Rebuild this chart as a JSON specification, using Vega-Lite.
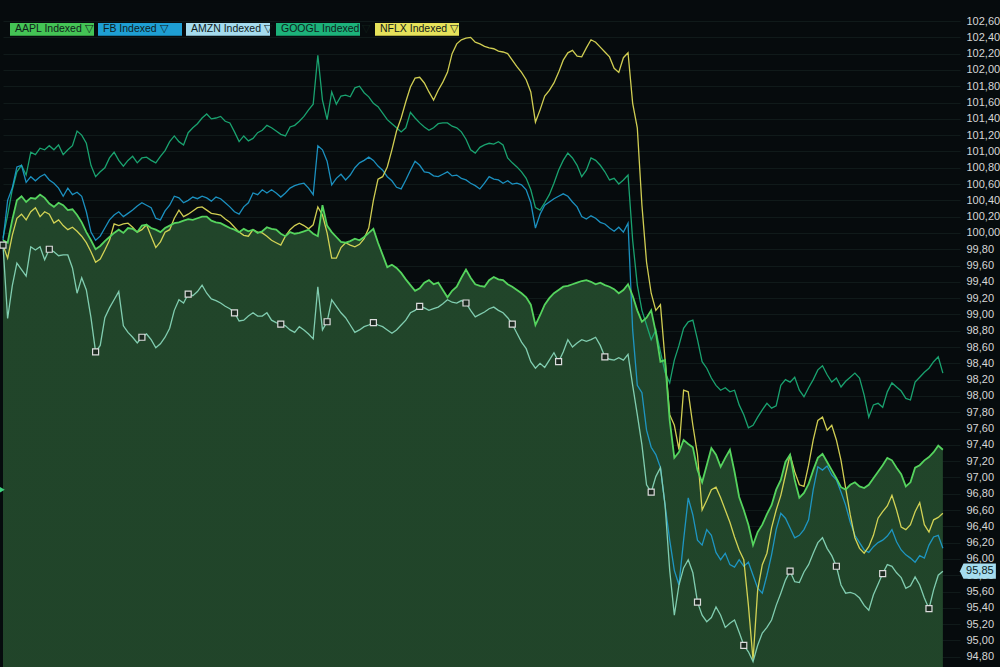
{
"$schema": "https://vega.github.io/schema/vega-lite/v6.json",
"width": 957, "height": 667,
"autosize": {"type": "none"},
"padding": {"left": 3, "top": 0, "right": 40, "bottom": 0},
"background": "#060b0d",
"config": {"view": {"stroke": null}, "font": "Liberation Sans",
  "axisY": {"grid": true, "gridColor": "#101a1a", "gridWidth": 1, "domain": false, "ticks": false, "labelPadding": 6, "labelColor": "#d6d6d6", "labelFontSize": 11, "labelFont": "Liberation Sans", "labelOverlap": false},
  "locale": {"number": {"decimal": ",", "thousands": ".", "grouping": [3], "currency": ["", " €"]}}},
"data": {"values": [
{"t":0,"AAPL":99.91,"FB":99.91,"AMZN":99.85,"GOOGL":99.94,"NFLX":99.85},
{"t":1,"AAPL":99.88,"FB":100.40,"AMZN":98.95,"GOOGL":100.22,"NFLX":99.69},
{"t":2,"AAPL":100.16,"FB":100.55,"AMZN":99.35,"GOOGL":100.53,"NFLX":99.97},
{"t":3,"AAPL":100.40,"FB":100.81,"AMZN":99.63,"GOOGL":100.75,"NFLX":100.18},
{"t":4,"AAPL":100.45,"FB":100.83,"AMZN":99.55,"GOOGL":100.83,"NFLX":100.23},
{"t":5,"AAPL":100.38,"FB":100.62,"AMZN":99.47,"GOOGL":100.71,"NFLX":100.16},
{"t":6,"AAPL":100.43,"FB":100.69,"AMZN":99.83,"GOOGL":100.99,"NFLX":100.26},
{"t":7,"AAPL":100.42,"FB":100.64,"AMZN":99.79,"GOOGL":100.96,"NFLX":100.31},
{"t":8,"AAPL":100.47,"FB":100.69,"AMZN":99.83,"GOOGL":101.04,"NFLX":100.20},
{"t":9,"AAPL":100.43,"FB":100.72,"AMZN":99.67,"GOOGL":101.02,"NFLX":100.26},
{"t":10,"AAPL":100.36,"FB":100.65,"AMZN":99.80,"GOOGL":101.07,"NFLX":100.23},
{"t":11,"AAPL":100.32,"FB":100.61,"AMZN":99.77,"GOOGL":101.02,"NFLX":100.12},
{"t":12,"AAPL":100.37,"FB":100.55,"AMZN":99.72,"GOOGL":101.08,"NFLX":100.16},
{"t":13,"AAPL":100.34,"FB":100.45,"AMZN":99.73,"GOOGL":100.96,"NFLX":100.09},
{"t":14,"AAPL":100.28,"FB":100.55,"AMZN":99.73,"GOOGL":101.02,"NFLX":100.04},
{"t":15,"AAPL":100.29,"FB":100.47,"AMZN":99.57,"GOOGL":101.07,"NFLX":100.07},
{"t":16,"AAPL":100.22,"FB":100.50,"AMZN":99.26,"GOOGL":101.25,"NFLX":100.02},
{"t":17,"AAPL":100.13,"FB":100.45,"AMZN":99.45,"GOOGL":101.20,"NFLX":99.96},
{"t":18,"AAPL":100.01,"FB":100.26,"AMZN":99.30,"GOOGL":101.10,"NFLX":99.88},
{"t":19,"AAPL":99.91,"FB":100.01,"AMZN":98.96,"GOOGL":100.83,"NFLX":99.77},
{"t":20,"AAPL":99.80,"FB":99.91,"AMZN":98.54,"GOOGL":100.69,"NFLX":99.64},
{"t":21,"AAPL":99.84,"FB":99.96,"AMZN":98.62,"GOOGL":100.75,"NFLX":99.68},
{"t":22,"AAPL":99.90,"FB":100.06,"AMZN":98.96,"GOOGL":100.80,"NFLX":99.79},
{"t":23,"AAPL":99.95,"FB":100.16,"AMZN":99.08,"GOOGL":100.92,"NFLX":99.91},
{"t":24,"AAPL":100.00,"FB":100.22,"AMZN":99.18,"GOOGL":100.99,"NFLX":100.11},
{"t":25,"AAPL":100.04,"FB":100.26,"AMZN":99.28,"GOOGL":100.89,"NFLX":100.09},
{"t":26,"AAPL":100.00,"FB":100.20,"AMZN":98.86,"GOOGL":100.82,"NFLX":100.11},
{"t":27,"AAPL":100.06,"FB":100.24,"AMZN":98.78,"GOOGL":100.89,"NFLX":100.12},
{"t":28,"AAPL":100.05,"FB":100.28,"AMZN":98.72,"GOOGL":100.94,"NFLX":100.07},
{"t":29,"AAPL":100.01,"FB":100.33,"AMZN":98.65,"GOOGL":100.86,"NFLX":100.01},
{"t":30,"AAPL":100.09,"FB":100.37,"AMZN":98.72,"GOOGL":100.92,"NFLX":100.04},
{"t":31,"AAPL":100.10,"FB":100.34,"AMZN":98.76,"GOOGL":100.93,"NFLX":100.10},
{"t":32,"AAPL":100.06,"FB":100.31,"AMZN":98.69,"GOOGL":100.89,"NFLX":99.96},
{"t":33,"AAPL":100.04,"FB":100.18,"AMZN":98.59,"GOOGL":100.86,"NFLX":99.82},
{"t":34,"AAPL":100.01,"FB":100.16,"AMZN":98.64,"GOOGL":100.94,"NFLX":99.89},
{"t":35,"AAPL":100.06,"FB":100.27,"AMZN":98.72,"GOOGL":101.01,"NFLX":100.01},
{"t":36,"AAPL":100.09,"FB":100.34,"AMZN":98.83,"GOOGL":101.12,"NFLX":100.04},
{"t":37,"AAPL":100.12,"FB":100.45,"AMZN":99.05,"GOOGL":101.19,"NFLX":100.18},
{"t":38,"AAPL":100.13,"FB":100.43,"AMZN":99.18,"GOOGL":101.12,"NFLX":100.28},
{"t":39,"AAPL":100.15,"FB":100.37,"AMZN":99.14,"GOOGL":101.08,"NFLX":100.20},
{"t":40,"AAPL":100.17,"FB":100.40,"AMZN":99.25,"GOOGL":101.23,"NFLX":100.23},
{"t":41,"AAPL":100.16,"FB":100.44,"AMZN":99.23,"GOOGL":101.29,"NFLX":100.27},
{"t":42,"AAPL":100.18,"FB":100.42,"AMZN":99.28,"GOOGL":101.34,"NFLX":100.31},
{"t":43,"AAPL":100.20,"FB":100.45,"AMZN":99.36,"GOOGL":101.41,"NFLX":100.32},
{"t":44,"AAPL":100.20,"FB":100.43,"AMZN":99.26,"GOOGL":101.46,"NFLX":100.28},
{"t":45,"AAPL":100.15,"FB":100.39,"AMZN":99.19,"GOOGL":101.40,"NFLX":100.24},
{"t":46,"AAPL":100.13,"FB":100.44,"AMZN":99.17,"GOOGL":101.41,"NFLX":100.23},
{"t":47,"AAPL":100.12,"FB":100.42,"AMZN":99.14,"GOOGL":101.43,"NFLX":100.22},
{"t":48,"AAPL":100.09,"FB":100.37,"AMZN":99.10,"GOOGL":101.37,"NFLX":100.17},
{"t":49,"AAPL":100.06,"FB":100.32,"AMZN":99.07,"GOOGL":101.35,"NFLX":100.13},
{"t":50,"AAPL":100.04,"FB":100.26,"AMZN":99.02,"GOOGL":101.24,"NFLX":100.07},
{"t":51,"AAPL":100.01,"FB":100.23,"AMZN":98.92,"GOOGL":101.12,"NFLX":100.01},
{"t":52,"AAPL":100.05,"FB":100.32,"AMZN":98.93,"GOOGL":101.19,"NFLX":99.97},
{"t":53,"AAPL":100.02,"FB":100.37,"AMZN":98.98,"GOOGL":101.13,"NFLX":99.96},
{"t":54,"AAPL":100.04,"FB":100.49,"AMZN":99.02,"GOOGL":101.16,"NFLX":100.04},
{"t":55,"AAPL":100.00,"FB":100.47,"AMZN":98.98,"GOOGL":101.23,"NFLX":100.01},
{"t":56,"AAPL":100.02,"FB":100.53,"AMZN":98.98,"GOOGL":101.26,"NFLX":100.00},
{"t":57,"AAPL":100.07,"FB":100.49,"AMZN":99.02,"GOOGL":101.32,"NFLX":99.96},
{"t":58,"AAPL":100.05,"FB":100.53,"AMZN":98.93,"GOOGL":101.29,"NFLX":99.91},
{"t":59,"AAPL":100.04,"FB":100.49,"AMZN":98.90,"GOOGL":101.25,"NFLX":99.88},
{"t":60,"AAPL":99.99,"FB":100.44,"AMZN":98.88,"GOOGL":101.21,"NFLX":99.85},
{"t":61,"AAPL":99.96,"FB":100.49,"AMZN":98.86,"GOOGL":101.19,"NFLX":99.96},
{"t":62,"AAPL":100.01,"FB":100.55,"AMZN":98.81,"GOOGL":101.30,"NFLX":100.04},
{"t":63,"AAPL":99.99,"FB":100.58,"AMZN":98.78,"GOOGL":101.32,"NFLX":100.09},
{"t":64,"AAPL":100.00,"FB":100.60,"AMZN":98.85,"GOOGL":101.37,"NFLX":100.12},
{"t":65,"AAPL":100.02,"FB":100.61,"AMZN":98.81,"GOOGL":101.43,"NFLX":100.09},
{"t":66,"AAPL":100.04,"FB":100.55,"AMZN":98.76,"GOOGL":101.51,"NFLX":100.05},
{"t":67,"AAPL":99.99,"FB":100.47,"AMZN":98.70,"GOOGL":101.58,"NFLX":100.10},
{"t":68,"AAPL":99.96,"FB":101.07,"AMZN":99.34,"GOOGL":102.18,"NFLX":100.32},
{"t":69,"AAPL":100.34,"FB":101.02,"AMZN":98.81,"GOOGL":101.63,"NFLX":100.22},
{"t":70,"AAPL":100.09,"FB":100.88,"AMZN":98.91,"GOOGL":101.39,"NFLX":100.00},
{"t":71,"AAPL":100.01,"FB":100.59,"AMZN":99.18,"GOOGL":101.73,"NFLX":99.69},
{"t":72,"AAPL":99.95,"FB":100.67,"AMZN":99.10,"GOOGL":101.58,"NFLX":99.69},
{"t":73,"AAPL":99.89,"FB":100.72,"AMZN":99.02,"GOOGL":101.68,"NFLX":99.82},
{"t":74,"AAPL":99.88,"FB":100.65,"AMZN":98.96,"GOOGL":101.69,"NFLX":99.88},
{"t":75,"AAPL":99.90,"FB":100.71,"AMZN":98.87,"GOOGL":101.67,"NFLX":99.85},
{"t":76,"AAPL":99.93,"FB":100.80,"AMZN":98.78,"GOOGL":101.78,"NFLX":99.83},
{"t":77,"AAPL":99.91,"FB":100.86,"AMZN":98.81,"GOOGL":101.80,"NFLX":99.86},
{"t":78,"AAPL":99.95,"FB":100.89,"AMZN":98.85,"GOOGL":101.72,"NFLX":99.93},
{"t":79,"AAPL":100.00,"FB":100.93,"AMZN":98.87,"GOOGL":101.67,"NFLX":100.06},
{"t":80,"AAPL":100.05,"FB":100.89,"AMZN":98.90,"GOOGL":101.59,"NFLX":100.40},
{"t":81,"AAPL":99.88,"FB":100.82,"AMZN":98.87,"GOOGL":101.55,"NFLX":100.66},
{"t":82,"AAPL":99.73,"FB":100.77,"AMZN":98.85,"GOOGL":101.47,"NFLX":100.69},
{"t":83,"AAPL":99.58,"FB":100.69,"AMZN":98.81,"GOOGL":101.39,"NFLX":100.81},
{"t":84,"AAPL":99.61,"FB":100.64,"AMZN":98.77,"GOOGL":101.34,"NFLX":101.02},
{"t":85,"AAPL":99.57,"FB":100.56,"AMZN":98.81,"GOOGL":101.29,"NFLX":101.25},
{"t":86,"AAPL":99.51,"FB":100.54,"AMZN":98.87,"GOOGL":101.24,"NFLX":101.41},
{"t":87,"AAPL":99.43,"FB":100.65,"AMZN":98.93,"GOOGL":101.29,"NFLX":101.61},
{"t":88,"AAPL":99.36,"FB":100.77,"AMZN":99.02,"GOOGL":101.48,"NFLX":101.79},
{"t":89,"AAPL":99.29,"FB":100.88,"AMZN":99.05,"GOOGL":101.41,"NFLX":101.90},
{"t":90,"AAPL":99.32,"FB":100.83,"AMZN":99.10,"GOOGL":101.35,"NFLX":101.91},
{"t":91,"AAPL":99.39,"FB":100.75,"AMZN":99.08,"GOOGL":101.30,"NFLX":101.84},
{"t":92,"AAPL":99.42,"FB":100.74,"AMZN":99.05,"GOOGL":101.26,"NFLX":101.73},
{"t":93,"AAPL":99.37,"FB":100.70,"AMZN":99.07,"GOOGL":101.29,"NFLX":101.63},
{"t":94,"AAPL":99.39,"FB":100.69,"AMZN":99.09,"GOOGL":101.34,"NFLX":101.75},
{"t":95,"AAPL":99.30,"FB":100.72,"AMZN":99.13,"GOOGL":101.35,"NFLX":101.85},
{"t":96,"AAPL":99.21,"FB":100.75,"AMZN":99.18,"GOOGL":101.35,"NFLX":101.97},
{"t":97,"AAPL":99.29,"FB":100.70,"AMZN":99.15,"GOOGL":101.31,"NFLX":102.20},
{"t":98,"AAPL":99.34,"FB":100.71,"AMZN":99.14,"GOOGL":101.29,"NFLX":102.32},
{"t":99,"AAPL":99.45,"FB":100.67,"AMZN":99.17,"GOOGL":101.24,"NFLX":102.37},
{"t":100,"AAPL":99.55,"FB":100.65,"AMZN":99.14,"GOOGL":101.15,"NFLX":102.39},
{"t":101,"AAPL":99.45,"FB":100.61,"AMZN":99.05,"GOOGL":101.02,"NFLX":102.40},
{"t":102,"AAPL":99.37,"FB":100.58,"AMZN":98.97,"GOOGL":100.98,"NFLX":102.34},
{"t":103,"AAPL":99.35,"FB":100.54,"AMZN":99.00,"GOOGL":101.05,"NFLX":102.32},
{"t":104,"AAPL":99.34,"FB":100.61,"AMZN":99.03,"GOOGL":101.08,"NFLX":102.29},
{"t":105,"AAPL":99.42,"FB":100.69,"AMZN":99.07,"GOOGL":101.10,"NFLX":102.27},
{"t":106,"AAPL":99.46,"FB":100.66,"AMZN":99.09,"GOOGL":101.09,"NFLX":102.26},
{"t":107,"AAPL":99.43,"FB":100.65,"AMZN":99.05,"GOOGL":101.12,"NFLX":102.23},
{"t":108,"AAPL":99.42,"FB":100.61,"AMZN":99.02,"GOOGL":101.08,"NFLX":102.22},
{"t":109,"AAPL":99.37,"FB":100.64,"AMZN":98.96,"GOOGL":100.92,"NFLX":102.20},
{"t":110,"AAPL":99.34,"FB":100.60,"AMZN":98.88,"GOOGL":100.86,"NFLX":102.12},
{"t":111,"AAPL":99.30,"FB":100.61,"AMZN":98.77,"GOOGL":100.81,"NFLX":102.04},
{"t":112,"AAPL":99.26,"FB":100.59,"AMZN":98.66,"GOOGL":100.75,"NFLX":101.97},
{"t":113,"AAPL":99.21,"FB":100.53,"AMZN":98.58,"GOOGL":100.67,"NFLX":101.88},
{"t":114,"AAPL":99.12,"FB":100.37,"AMZN":98.42,"GOOGL":100.53,"NFLX":101.73},
{"t":115,"AAPL":98.87,"FB":100.06,"AMZN":98.34,"GOOGL":100.31,"NFLX":101.36},
{"t":116,"AAPL":98.99,"FB":100.23,"AMZN":98.40,"GOOGL":100.28,"NFLX":101.51},
{"t":117,"AAPL":99.12,"FB":100.34,"AMZN":98.35,"GOOGL":100.37,"NFLX":101.68},
{"t":118,"AAPL":99.20,"FB":100.38,"AMZN":98.44,"GOOGL":100.47,"NFLX":101.75},
{"t":119,"AAPL":99.26,"FB":100.42,"AMZN":98.53,"GOOGL":100.61,"NFLX":101.84},
{"t":120,"AAPL":99.30,"FB":100.45,"AMZN":98.42,"GOOGL":100.77,"NFLX":101.97},
{"t":121,"AAPL":99.34,"FB":100.48,"AMZN":98.54,"GOOGL":100.89,"NFLX":102.12},
{"t":122,"AAPL":99.35,"FB":100.45,"AMZN":98.69,"GOOGL":100.98,"NFLX":102.21},
{"t":123,"AAPL":99.37,"FB":100.38,"AMZN":98.60,"GOOGL":100.92,"NFLX":102.24},
{"t":124,"AAPL":99.39,"FB":100.32,"AMZN":98.65,"GOOGL":100.83,"NFLX":102.17},
{"t":125,"AAPL":99.41,"FB":100.20,"AMZN":98.69,"GOOGL":100.69,"NFLX":102.16},
{"t":126,"AAPL":99.42,"FB":100.17,"AMZN":98.67,"GOOGL":100.77,"NFLX":102.27},
{"t":127,"AAPL":99.40,"FB":100.21,"AMZN":98.69,"GOOGL":100.92,"NFLX":102.37},
{"t":128,"AAPL":99.37,"FB":100.18,"AMZN":98.72,"GOOGL":100.89,"NFLX":102.34},
{"t":129,"AAPL":99.39,"FB":100.13,"AMZN":98.62,"GOOGL":100.83,"NFLX":102.28},
{"t":130,"AAPL":99.36,"FB":100.11,"AMZN":98.48,"GOOGL":100.75,"NFLX":102.22},
{"t":131,"AAPL":99.34,"FB":100.06,"AMZN":98.45,"GOOGL":100.65,"NFLX":102.16},
{"t":132,"AAPL":99.31,"FB":100.02,"AMZN":98.44,"GOOGL":100.67,"NFLX":102.02},
{"t":133,"AAPL":99.26,"FB":100.07,"AMZN":98.47,"GOOGL":100.60,"NFLX":101.97},
{"t":134,"AAPL":99.30,"FB":100.01,"AMZN":98.44,"GOOGL":100.65,"NFLX":102.15},
{"t":135,"AAPL":99.37,"FB":100.12,"AMZN":98.51,"GOOGL":100.71,"NFLX":102.21},
{"t":136,"AAPL":99.23,"FB":98.81,"AMZN":98.13,"GOOGL":99.91,"NFLX":101.59},
{"t":137,"AAPL":99.05,"FB":98.13,"AMZN":97.77,"GOOGL":99.36,"NFLX":101.29},
{"t":138,"AAPL":98.91,"FB":98.04,"AMZN":97.40,"GOOGL":99.05,"NFLX":100.34},
{"t":139,"AAPL":98.96,"FB":97.58,"AMZN":96.91,"GOOGL":98.87,"NFLX":99.64},
{"t":140,"AAPL":99.05,"FB":97.37,"AMZN":96.82,"GOOGL":98.69,"NFLX":99.26},
{"t":141,"AAPL":98.78,"FB":97.28,"AMZN":97.01,"GOOGL":98.81,"NFLX":99.05},
{"t":142,"AAPL":98.42,"FB":97.12,"AMZN":97.12,"GOOGL":98.54,"NFLX":99.12},
{"t":143,"AAPL":98.44,"FB":96.66,"AMZN":96.66,"GOOGL":98.29,"NFLX":98.44},
{"t":144,"AAPL":97.70,"FB":96.23,"AMZN":95.86,"GOOGL":98.16,"NFLX":97.77},
{"t":145,"AAPL":97.24,"FB":95.86,"AMZN":95.31,"GOOGL":98.44,"NFLX":97.64},
{"t":146,"AAPL":97.31,"FB":95.68,"AMZN":95.68,"GOOGL":98.62,"NFLX":97.34},
{"t":147,"AAPL":97.46,"FB":96.23,"AMZN":95.89,"GOOGL":98.83,"NFLX":98.07},
{"t":148,"AAPL":97.41,"FB":96.75,"AMZN":95.99,"GOOGL":98.91,"NFLX":98.05},
{"t":149,"AAPL":97.37,"FB":96.54,"AMZN":95.83,"GOOGL":98.93,"NFLX":97.64},
{"t":150,"AAPL":97.09,"FB":96.23,"AMZN":95.47,"GOOGL":98.69,"NFLX":97.28},
{"t":151,"AAPL":96.94,"FB":96.17,"AMZN":95.31,"GOOGL":98.42,"NFLX":96.60},
{"t":152,"AAPL":97.15,"FB":96.36,"AMZN":95.23,"GOOGL":98.34,"NFLX":96.72},
{"t":153,"AAPL":97.36,"FB":96.29,"AMZN":95.28,"GOOGL":98.22,"NFLX":96.85},
{"t":154,"AAPL":97.28,"FB":96.08,"AMZN":95.41,"GOOGL":98.13,"NFLX":96.88},
{"t":155,"AAPL":97.13,"FB":95.99,"AMZN":95.31,"GOOGL":98.07,"NFLX":96.75},
{"t":156,"AAPL":97.24,"FB":96.07,"AMZN":95.16,"GOOGL":98.10,"NFLX":96.60},
{"t":157,"AAPL":97.34,"FB":95.93,"AMZN":95.21,"GOOGL":98.05,"NFLX":96.45},
{"t":158,"AAPL":97.07,"FB":95.90,"AMZN":95.25,"GOOGL":98.07,"NFLX":96.27},
{"t":159,"AAPL":96.76,"FB":95.99,"AMZN":95.10,"GOOGL":97.89,"NFLX":96.11},
{"t":160,"AAPL":96.60,"FB":95.91,"AMZN":94.94,"GOOGL":97.77,"NFLX":95.99},
{"t":161,"AAPL":96.42,"FB":95.96,"AMZN":94.86,"GOOGL":97.61,"NFLX":95.43},
{"t":162,"AAPL":96.17,"FB":95.80,"AMZN":94.74,"GOOGL":97.64,"NFLX":94.76},
{"t":163,"AAPL":96.33,"FB":95.64,"AMZN":94.94,"GOOGL":97.74,"NFLX":95.62},
{"t":164,"AAPL":96.42,"FB":95.58,"AMZN":95.09,"GOOGL":97.83,"NFLX":95.93},
{"t":165,"AAPL":96.55,"FB":95.80,"AMZN":95.16,"GOOGL":97.91,"NFLX":96.07},
{"t":166,"AAPL":96.66,"FB":96.05,"AMZN":95.25,"GOOGL":97.85,"NFLX":96.38},
{"t":167,"AAPL":96.85,"FB":96.36,"AMZN":95.43,"GOOGL":97.88,"NFLX":96.60},
{"t":168,"AAPL":96.97,"FB":96.56,"AMZN":95.58,"GOOGL":98.13,"NFLX":96.78},
{"t":169,"AAPL":97.19,"FB":96.50,"AMZN":95.74,"GOOGL":98.20,"NFLX":97.03},
{"t":170,"AAPL":97.28,"FB":96.38,"AMZN":95.85,"GOOGL":98.17,"NFLX":97.28},
{"t":171,"AAPL":96.97,"FB":96.26,"AMZN":95.72,"GOOGL":98.23,"NFLX":97.07},
{"t":172,"AAPL":96.75,"FB":96.29,"AMZN":95.71,"GOOGL":98.07,"NFLX":96.91},
{"t":173,"AAPL":96.81,"FB":96.36,"AMZN":95.84,"GOOGL":97.99,"NFLX":96.89},
{"t":174,"AAPL":96.92,"FB":96.48,"AMZN":95.93,"GOOGL":98.10,"NFLX":97.15},
{"t":175,"AAPL":97.09,"FB":96.85,"AMZN":96.07,"GOOGL":98.20,"NFLX":97.46},
{"t":176,"AAPL":97.24,"FB":97.13,"AMZN":96.20,"GOOGL":98.32,"NFLX":97.70},
{"t":177,"AAPL":97.29,"FB":97.09,"AMZN":96.26,"GOOGL":98.37,"NFLX":97.74},
{"t":178,"AAPL":97.19,"FB":97.14,"AMZN":96.13,"GOOGL":98.26,"NFLX":97.58},
{"t":179,"AAPL":97.09,"FB":97.03,"AMZN":96.04,"GOOGL":98.17,"NFLX":97.64},
{"t":180,"AAPL":96.99,"FB":96.97,"AMZN":95.91,"GOOGL":98.22,"NFLX":97.46},
{"t":181,"AAPL":96.88,"FB":96.82,"AMZN":95.68,"GOOGL":98.11,"NFLX":97.21},
{"t":182,"AAPL":96.85,"FB":96.66,"AMZN":95.58,"GOOGL":98.18,"NFLX":96.87},
{"t":183,"AAPL":96.91,"FB":96.45,"AMZN":95.59,"GOOGL":98.23,"NFLX":96.54},
{"t":184,"AAPL":96.94,"FB":96.29,"AMZN":95.57,"GOOGL":98.28,"NFLX":96.26},
{"t":185,"AAPL":96.89,"FB":96.20,"AMZN":95.52,"GOOGL":98.22,"NFLX":96.13},
{"t":186,"AAPL":96.87,"FB":96.11,"AMZN":95.43,"GOOGL":98.01,"NFLX":96.07},
{"t":187,"AAPL":96.91,"FB":96.08,"AMZN":95.37,"GOOGL":97.74,"NFLX":96.15},
{"t":188,"AAPL":96.99,"FB":96.15,"AMZN":95.56,"GOOGL":97.89,"NFLX":96.29},
{"t":189,"AAPL":97.07,"FB":96.20,"AMZN":95.69,"GOOGL":97.91,"NFLX":96.50},
{"t":190,"AAPL":97.15,"FB":96.23,"AMZN":95.82,"GOOGL":97.86,"NFLX":96.58},
{"t":191,"AAPL":97.24,"FB":96.28,"AMZN":95.93,"GOOGL":98.05,"NFLX":96.65},
{"t":192,"AAPL":97.21,"FB":96.36,"AMZN":95.91,"GOOGL":98.16,"NFLX":96.78},
{"t":193,"AAPL":97.12,"FB":96.21,"AMZN":95.83,"GOOGL":98.11,"NFLX":96.60},
{"t":194,"AAPL":97.04,"FB":96.11,"AMZN":95.77,"GOOGL":98.06,"NFLX":96.39},
{"t":195,"AAPL":96.89,"FB":96.05,"AMZN":95.64,"GOOGL":97.97,"NFLX":96.36},
{"t":196,"AAPL":96.94,"FB":96.01,"AMZN":95.67,"GOOGL":97.95,"NFLX":96.42},
{"t":197,"AAPL":97.12,"FB":95.96,"AMZN":95.78,"GOOGL":98.17,"NFLX":96.58},
{"t":198,"AAPL":97.15,"FB":96.04,"AMZN":95.68,"GOOGL":98.23,"NFLX":96.69},
{"t":199,"AAPL":97.21,"FB":96.01,"AMZN":95.52,"GOOGL":98.29,"NFLX":96.42},
{"t":200,"AAPL":97.25,"FB":96.17,"AMZN":95.39,"GOOGL":98.34,"NFLX":96.33},
{"t":201,"AAPL":97.31,"FB":96.27,"AMZN":95.62,"GOOGL":98.42,"NFLX":96.48},
{"t":202,"AAPL":97.39,"FB":96.29,"AMZN":95.80,"GOOGL":98.48,"NFLX":96.51},
{"t":203,"AAPL":97.34,"FB":96.13,"AMZN":95.85,"GOOGL":98.28,"NFLX":96.56}
]},
"encoding": {
  "x": {"field": "t", "type": "quantitative", "scale": {"domain": [0, 206.7], "nice": false, "zero": false}, "axis": null}
},
"layer": [
  {
    "mark": {"type": "area", "color": {"gradient": "linear", "x1": 0, "y1": 0, "x2": 0, "y2": 1, "stops": [{"offset": 0, "color": "#21452a"}, {"offset": 1, "color": "#1b3a20"}]}},
    "encoding": {
      "y": {"field": "AAPL", "type": "quantitative",
        "scale": {"domain": [94.674, 102.858], "nice": false, "zero": false},
        "axis": {"orient": "right", "title": null, "format": ".2f", "values": [94.8,95,95.2,95.4,95.6,95.8,96,96.2,96.4,96.6,96.8,97,97.2,97.4,97.6,97.8,98,98.2,98.4,98.6,98.8,99,99.2,99.4,99.6,99.8,100,100.2,100.4,100.6,100.8,101,101.2,101.4,101.6,101.8,102,102.2,102.4,102.6]}}
    }
  },
  {
    "transform": [{"fold": ["GOOGL", "FB", "NFLX"], "as": ["s", "v"]}],
    "mark": {"type": "line", "strokeWidth": 1.3, "strokeOpacity": 0.9},
    "encoding": {
      "y": {"field": "v", "type": "quantitative",
        "axis": {"orient": "right", "title": null, "format": ".2f", "values": [94.8,95,95.2,95.4,95.6,95.8,96,96.2,96.4,96.6,96.8,97,97.2,97.4,97.6,97.8,98,98.2,98.4,98.6,98.8,99,99.2,99.4,99.6,99.8,100,100.2,100.4,100.6,100.8,101,101.2,101.4,101.6,101.8,102,102.2,102.4,102.6]}},
      "color": {"field": "s", "type": "nominal",
        "scale": {"domain": ["AAPL", "FB", "AMZN", "GOOGL", "NFLX"], "range": ["#44c455", "#1e9fd3", "#a5dcee", "#1cb27a", "#e6e25a"]},
        "legend": {"title": null, "orient": "none", "legendX": 7, "legendY": -13, "direction": "horizontal",
          "symbolType": "M-1,-0.15L1,-0.15L1,0.15L-1,0.15Z", "symbolSize": 7056, "symbolStrokeWidth": 0, "symbolOpacity": 1,
          "labelOffset": -79, "labelColor": "#10201a", "labelFontSize": 10.5, "labelFont": "Liberation Sans", "labelLimit": 200,
          "columnPadding": 4, "padding": 0, "labelExpr": "datum.label + ' Indexed ▽'",
          "encode": {"symbols": {"update": {"fill": {"scale": "color", "field": "value"}, "fillOpacity": {"value": 1}, "strokeWidth": {"value": 0}}}}}
      }
    }
  },
  {
    "mark": {"type": "line", "strokeWidth": 1.8, "color": "#55d45e"},
    "encoding": {"y": {"field": "AAPL", "type": "quantitative",
        "axis": {"orient": "right", "title": null, "format": ".2f", "values": [94.8,95,95.2,95.4,95.6,95.8,96,96.2,96.4,96.6,96.8,97,97.2,97.4,97.6,97.8,98,98.2,98.4,98.6,98.8,99,99.2,99.4,99.6,99.8,100,100.2,100.4,100.6,100.8,101,101.2,101.4,101.6,101.8,102,102.2,102.4,102.6]}}}
  },
  {
    "mark": {"type": "line", "strokeWidth": 1.3, "color": "#80cdb0"},
    "encoding": {"y": {"field": "AMZN", "type": "quantitative",
        "axis": {"orient": "right", "title": null, "format": ".2f", "values": [94.8,95,95.2,95.4,95.6,95.8,96,96.2,96.4,96.6,96.8,97,97.2,97.4,97.6,97.8,98,98.2,98.4,98.6,98.8,99,99.2,99.4,99.6,99.8,100,100.2,100.4,100.6,100.8,101,101.2,101.4,101.6,101.8,102,102.2,102.4,102.6]}}}
  },
  {
    "transform": [{"filter": "datum.t % 10 == 0"}],
    "mark": {"type": "point", "shape": "square", "size": 36, "filled": true, "fill": "#1c2a20", "stroke": "#dcdcdc", "strokeWidth": 1.2, "opacity": 1},
    "encoding": {"y": {"field": "AMZN", "type": "quantitative",
        "axis": {"orient": "right", "title": null, "format": ".2f", "values": [94.8,95,95.2,95.4,95.6,95.8,96,96.2,96.4,96.6,96.8,97,97.2,97.4,97.6,97.8,98,98.2,98.4,98.6,98.8,99,99.2,99.4,99.6,99.8,100,100.2,100.4,100.6,100.8,101,101.2,101.4,101.6,101.8,102,102.2,102.4,102.6]}}}
  },
  {
    "transform": [{"filter": "datum.t == 203"}],
    "mark": {"type": "point", "shape": "M-1,0L-0.8,-0.42L1,-0.42L1,0.42L-0.8,0.42Z", "size": 1296, "filled": true, "fill": "#a5dcee", "strokeWidth": 0, "opacity": 1, "xOffset": 35},
    "encoding": {"y": {"field": "AMZN", "type": "quantitative",
        "axis": {"orient": "right", "title": null, "format": ".2f", "values": [94.8,95,95.2,95.4,95.6,95.8,96,96.2,96.4,96.6,96.8,97,97.2,97.4,97.6,97.8,98,98.2,98.4,98.6,98.8,99,99.2,99.4,99.6,99.8,100,100.2,100.4,100.6,100.8,101,101.2,101.4,101.6,101.8,102,102.2,102.4,102.6]}}}
  },
  {
    "transform": [{"filter": "datum.t == 203"}],
    "mark": {"type": "text", "xOffset": 37, "fontSize": 11, "font": "Liberation Sans", "color": "#0c1c24", "align": "center", "baseline": "middle"},
    "encoding": {"y": {"field": "AMZN", "type": "quantitative",
        "axis": {"orient": "right", "title": null, "format": ".2f", "values": [94.8,95,95.2,95.4,95.6,95.8,96,96.2,96.4,96.6,96.8,97,97.2,97.4,97.6,97.8,98,98.2,98.4,98.6,98.8,99,99.2,99.4,99.6,99.8,100,100.2,100.4,100.6,100.8,101,101.2,101.4,101.6,101.8,102,102.2,102.4,102.6]}},
      "text": {"field": "AMZN", "type": "quantitative", "format": ".2f"}}
  },
  {
    "data": {"values": [{"t": 0, "v": 96.85}]},
    "mark": {"type": "point", "shape": "triangle-right", "size": 40, "filled": true, "color": "#3fd27e", "opacity": 1, "xOffset": -1},
    "encoding": {"y": {"field": "v", "type": "quantitative",
        "axis": {"orient": "right", "title": null, "format": ".2f", "values": [94.8,95,95.2,95.4,95.6,95.8,96,96.2,96.4,96.6,96.8,97,97.2,97.4,97.6,97.8,98,98.2,98.4,98.6,98.8,99,99.2,99.4,99.6,99.8,100,100.2,100.4,100.6,100.8,101,101.2,101.4,101.6,101.8,102,102.2,102.4,102.6]}}}
  }
]
}
